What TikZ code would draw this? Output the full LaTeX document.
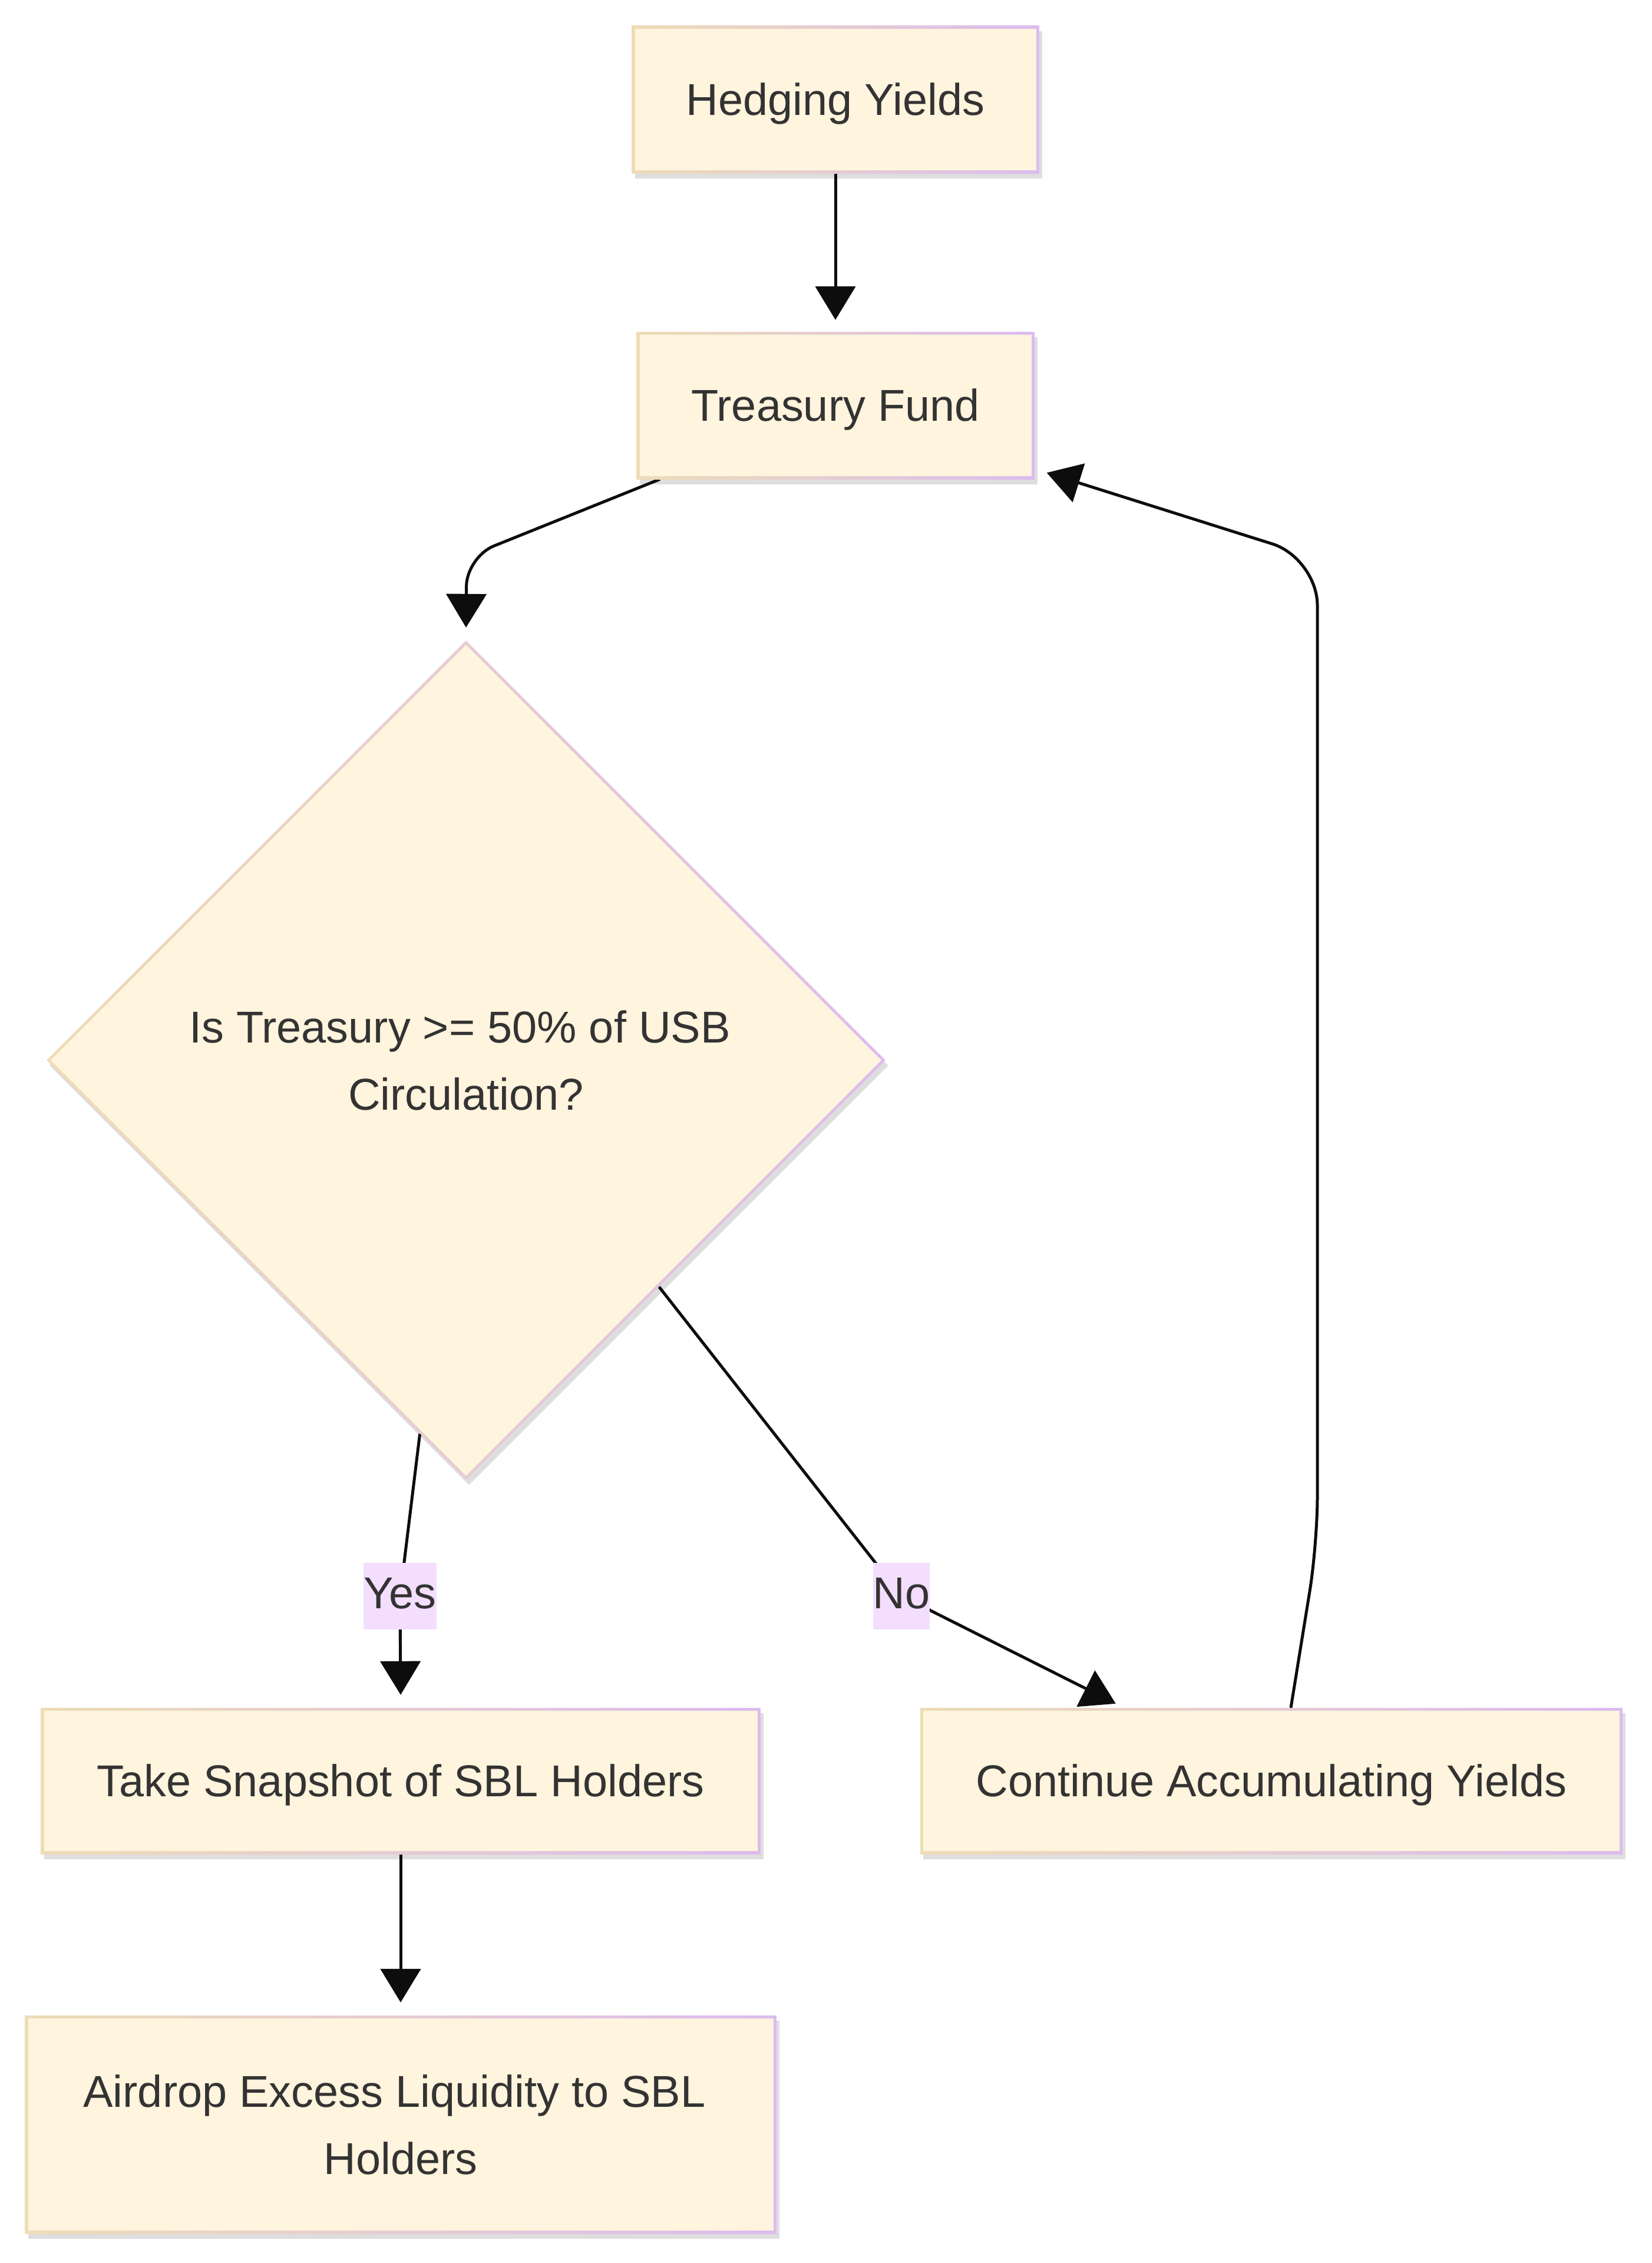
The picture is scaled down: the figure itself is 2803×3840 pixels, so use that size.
\documentclass[tikz,border=0pt]{standalone}
\usepackage{fontspec}
\setmainfont{Liberation Sans}
\usetikzlibrary{arrows.meta,shapes.geometric,shadows,calc}
\definecolor{cream}{HTML}{FFF4DD}
\definecolor{tanb}{HTML}{EEDCB6}
\definecolor{purb}{HTML}{DDBBEF}
\definecolor{lblbg}{HTML}{F4DEFD}
\definecolor{txt}{HTML}{333333}
\definecolor{edgec}{HTML}{0D0D0D}
\pgfdeclarelayer{bglayer}
\pgfdeclarelayer{edgelayer}
\pgfsetlayers{bglayer,edgelayer,main}
\begin{document}
\begin{tikzpicture}[x=1pt,y=-1pt,
  every node/.style={font=\fontsize{75.7}{114}\selectfont, text=txt},
  shadowed/.style={drop shadow={shadow xshift=5pt, shadow yshift=-9pt, opacity=0.13, fill=black}},
  box/.style={rectangle, inner sep=0pt, left color=tanb, right color=purb, shadowed,
    path picture={\fill[cream] ([xshift=5pt,yshift=-5pt]path picture bounding box.north west) rectangle ([xshift=-5pt,yshift=5pt]path picture bounding box.south east);}},
  oneline/.style={text height=68.5pt, text depth=16pt},
  dia/.style={diamond, aspect=1, minimum width=1424pt, minimum height=1424pt, inner sep=0pt,
    left color=tanb, right color=purb, shadowed, align=center,
    path picture={\fill[cream] ([xshift=-705pt]path picture bounding box.center) -- ([yshift=705pt]path picture bounding box.center) -- ([xshift=705pt]path picture bounding box.center) -- ([yshift=-705pt]path picture bounding box.center) -- cycle;}},
  lbl/.style={fill=lblbg, inner xsep=0pt, inner ysep=21pt, text height=57pt, text depth=14pt},
  edge/.style={draw=edgec, line width=5pt, -{Triangle[length=57pt, width=68pt]}}
]
\begin{pgfonlayer}{bglayer}
\fill[white] (0,0) rectangle (2803,3840);
\end{pgfonlayer}
\useasboundingbox (0,0) rectangle (2803,3840);

\node[box, oneline, minimum width=691pt, minimum height=250pt] (hy) at (1418,169) {Hedging Yields};
\node[box, oneline, minimum width=675pt, minimum height=250pt] (tf) at (1418,688) {Treasury Fund};
\node[dia] (q) at (791,1799) {Is Treasury >= 50\% of USB\kern21pt\\Circulation?};
\node[box, oneline, minimum width=1221pt, minimum height=248pt] (ts) at (680,3022) {Take Snapshot of SBL Holders};
\node[box, oneline, minimum width=1192pt, minimum height=248pt] (ca) at (2158,3022) {Continue Accumulating Yields};
\node[box, align=center, minimum width=1275pt, minimum height=370pt] (ad) at (680,3605) {Airdrop Excess Liquidity to SBL\kern21pt\\Holders};

\node[lbl] (yes) at (679,2708) {Yes};
\node[lbl] (no) at (1530,2708) {No};

\coordinate (c1) at (792,945);
\coordinate (c2) at (2236,2620);
\coordinate (c3) at (2236,947);

\begin{pgfonlayer}{edgelayer}
\draw[edge, shorten >=20pt] (hy.south) -- (tf.north);
\draw[edge, rounded corners=50pt] ([xshift=-298pt]tf.south) -- (c1) -- ([yshift=22pt]q.north);
\draw[edge, rounded corners=30pt] ($(q.south)!0.11!(q.west)$) -- (yes.center) -- ([yshift=22pt]ts.north);
\draw[edge, rounded corners=60pt] ($(q.east)!0.54!(q.south)$) -- (no.center) -- ([xshift=332pt,yshift=7pt]ca.north west);
\draw[edge, rounded corners=80pt] ([xshift=33pt]ca.north) -- (c2) -- (c3) -- ([xshift=21pt,yshift=11pt]tf.south east);
\draw[edge] (ts.south) -- ([yshift=22pt]ad.north);
\end{pgfonlayer}
\end{tikzpicture}
\end{document}
